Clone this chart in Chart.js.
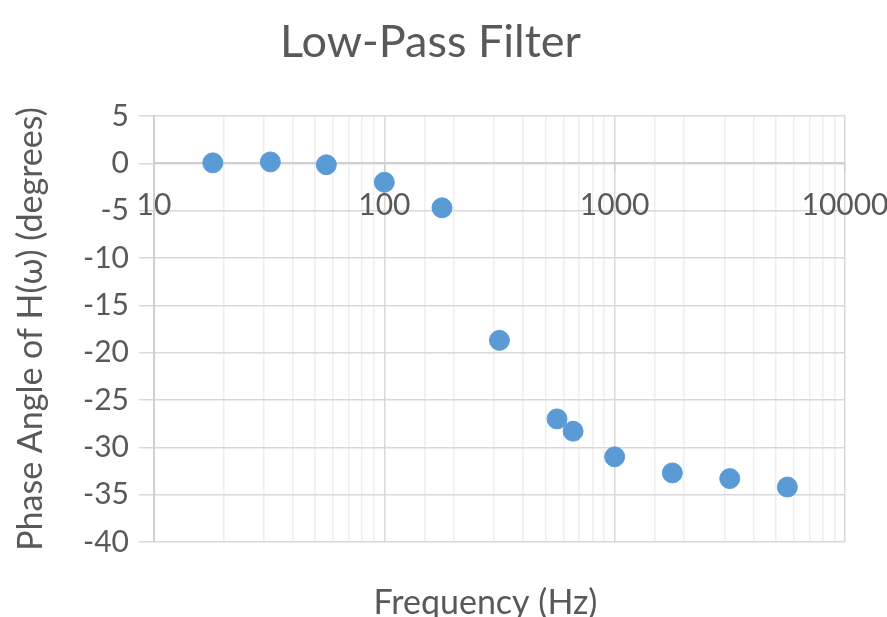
<!DOCTYPE html>
<html>
<head>
<meta charset="utf-8">
<script src="https://cdn.jsdelivr.net/npm/chart.js@4.4.0/dist/chart.umd.min.js"></script>
<style>
  html, body { margin: 0; padding: 0; background: #ffffff; }
  canvas { display: block; }
</style>
</head>
<body>
<canvas id="graficoFiltro" width="887" height="617"></canvas>
<script>
// dados
const frequenciaHz = [18, 32, 56, 100, 178, 316, 562, 660, 1000, 1780, 3160, 5620];
const faseGraus = [0.05, 0.15, -0.15, -2.0, -4.7, -18.7, -27.0, -28.3, -31.0, -32.7, -33.3, -34.2];
const ticksX = [10, 100, 1000, 10000];
const tituloX = 'Frequency (Hz)';

const corTexto = '#595959';
const fonte = 'Lato, "Open Sans", sans-serif';

function ehPotenciaDeDez(v) {
    return ticksX.includes(v);
}

// título do eixo x fica abaixo da área do gráfico (o eixo cruza em y = 0)
const tituloEixoX = {
    id: 'tituloEixoX',
    afterDraw(chart) {
        const { ctx, chartArea } = chart;
        ctx.save();
        ctx.fillStyle = corTexto;
        ctx.font = '34px ' + fonte;
        ctx.textAlign = 'center';
        ctx.textBaseline = 'middle';
        ctx.fillText(tituloX, (chartArea.left + chartArea.right) / 2 - 14, chartArea.bottom + 61);
        ctx.restore();
    }
};

const ctx = document.getElementById('graficoFiltro').getContext('2d');

new Chart(ctx, {
    type: 'scatter',
    data: {
        datasets: [{
            data: frequenciaHz.map((f, i) => ({ x: f, y: faseGraus[i] })),
            backgroundColor: '#5b9bd5',
            borderColor: '#5b9bd5',
            pointRadius: 10,
            pointHoverRadius: 10
        }]
    },
    plugins: [tituloEixoX],
    options: {
        responsive: false,
        animation: false,
        layout: { padding: { left: 0, right: 26, top: 0, bottom: 75 } },
        plugins: {
            legend: { display: false },
            tooltip: { enabled: false },
            title: {
                display: true,
                text: 'Low-Pass Filter',
                color: corTexto,
                font: { family: fonte, size: 45, weight: 'normal' },
                padding: { top: 15, bottom: 47 }
            }
        },
        scales: {
            x: {
                type: 'logarithmic',
                min: 10,
                max: 10000,
                position: { y: 0 },
                afterFit(scale) {
                    scale.paddingLeft = 0;
                    scale.paddingRight = 42;
                },
                border: { display: true, color: '#d0d0d0', width: 2 },
                grid: {
                    color: c => ehPotenciaDeDez(c.tick.value) ? '#d9d9d9' : '#eeeeee',
                    lineWidth: 1.5,
                    tickColor: c => ehPotenciaDeDez(c.tick.value) ? '#d0d0d0' : 'rgba(0,0,0,0)',
                    tickLength: 8
                },
                ticks: {
                    autoSkip: false,
                    maxRotation: 0,
                    padding: 16,
                    color: corTexto,
                    font: { family: fonte, size: 30 },
                    callback: v => ehPotenciaDeDez(v) ? String(v) : ''
                }
            },
            y: {
                min: -40,
                max: 5,
                afterFit(scale) {
                    scale.width = 154;
                },
                border: { display: true, color: '#d0d0d0', width: 2 },
                grid: {
                    color: c => c.tick.value % 5 === 0 ? '#d9d9d9' : '#f2f2f2',
                    lineWidth: 1.5,
                    tickColor: c => c.tick.value % 5 === 0 ? '#d9d9d9' : 'rgba(0,0,0,0)',
                    tickLength: 15
                },
                ticks: {
                    stepSize: 2.5,
                    padding: 10,
                    color: corTexto,
                    font: { family: fonte, size: 30 },
                    callback: v => v % 5 === 0 ? String(v) : ''
                },
                title: {
                    display: true,
                    text: 'Phase Angle of H(ω) (degrees)',
                    color: corTexto,
                    font: { family: fonte, size: 34, weight: 'normal' },
                    padding: { top: 11, bottom: 0 }
                }
            }
        }
    }
});
</script>
</body>
</html>
